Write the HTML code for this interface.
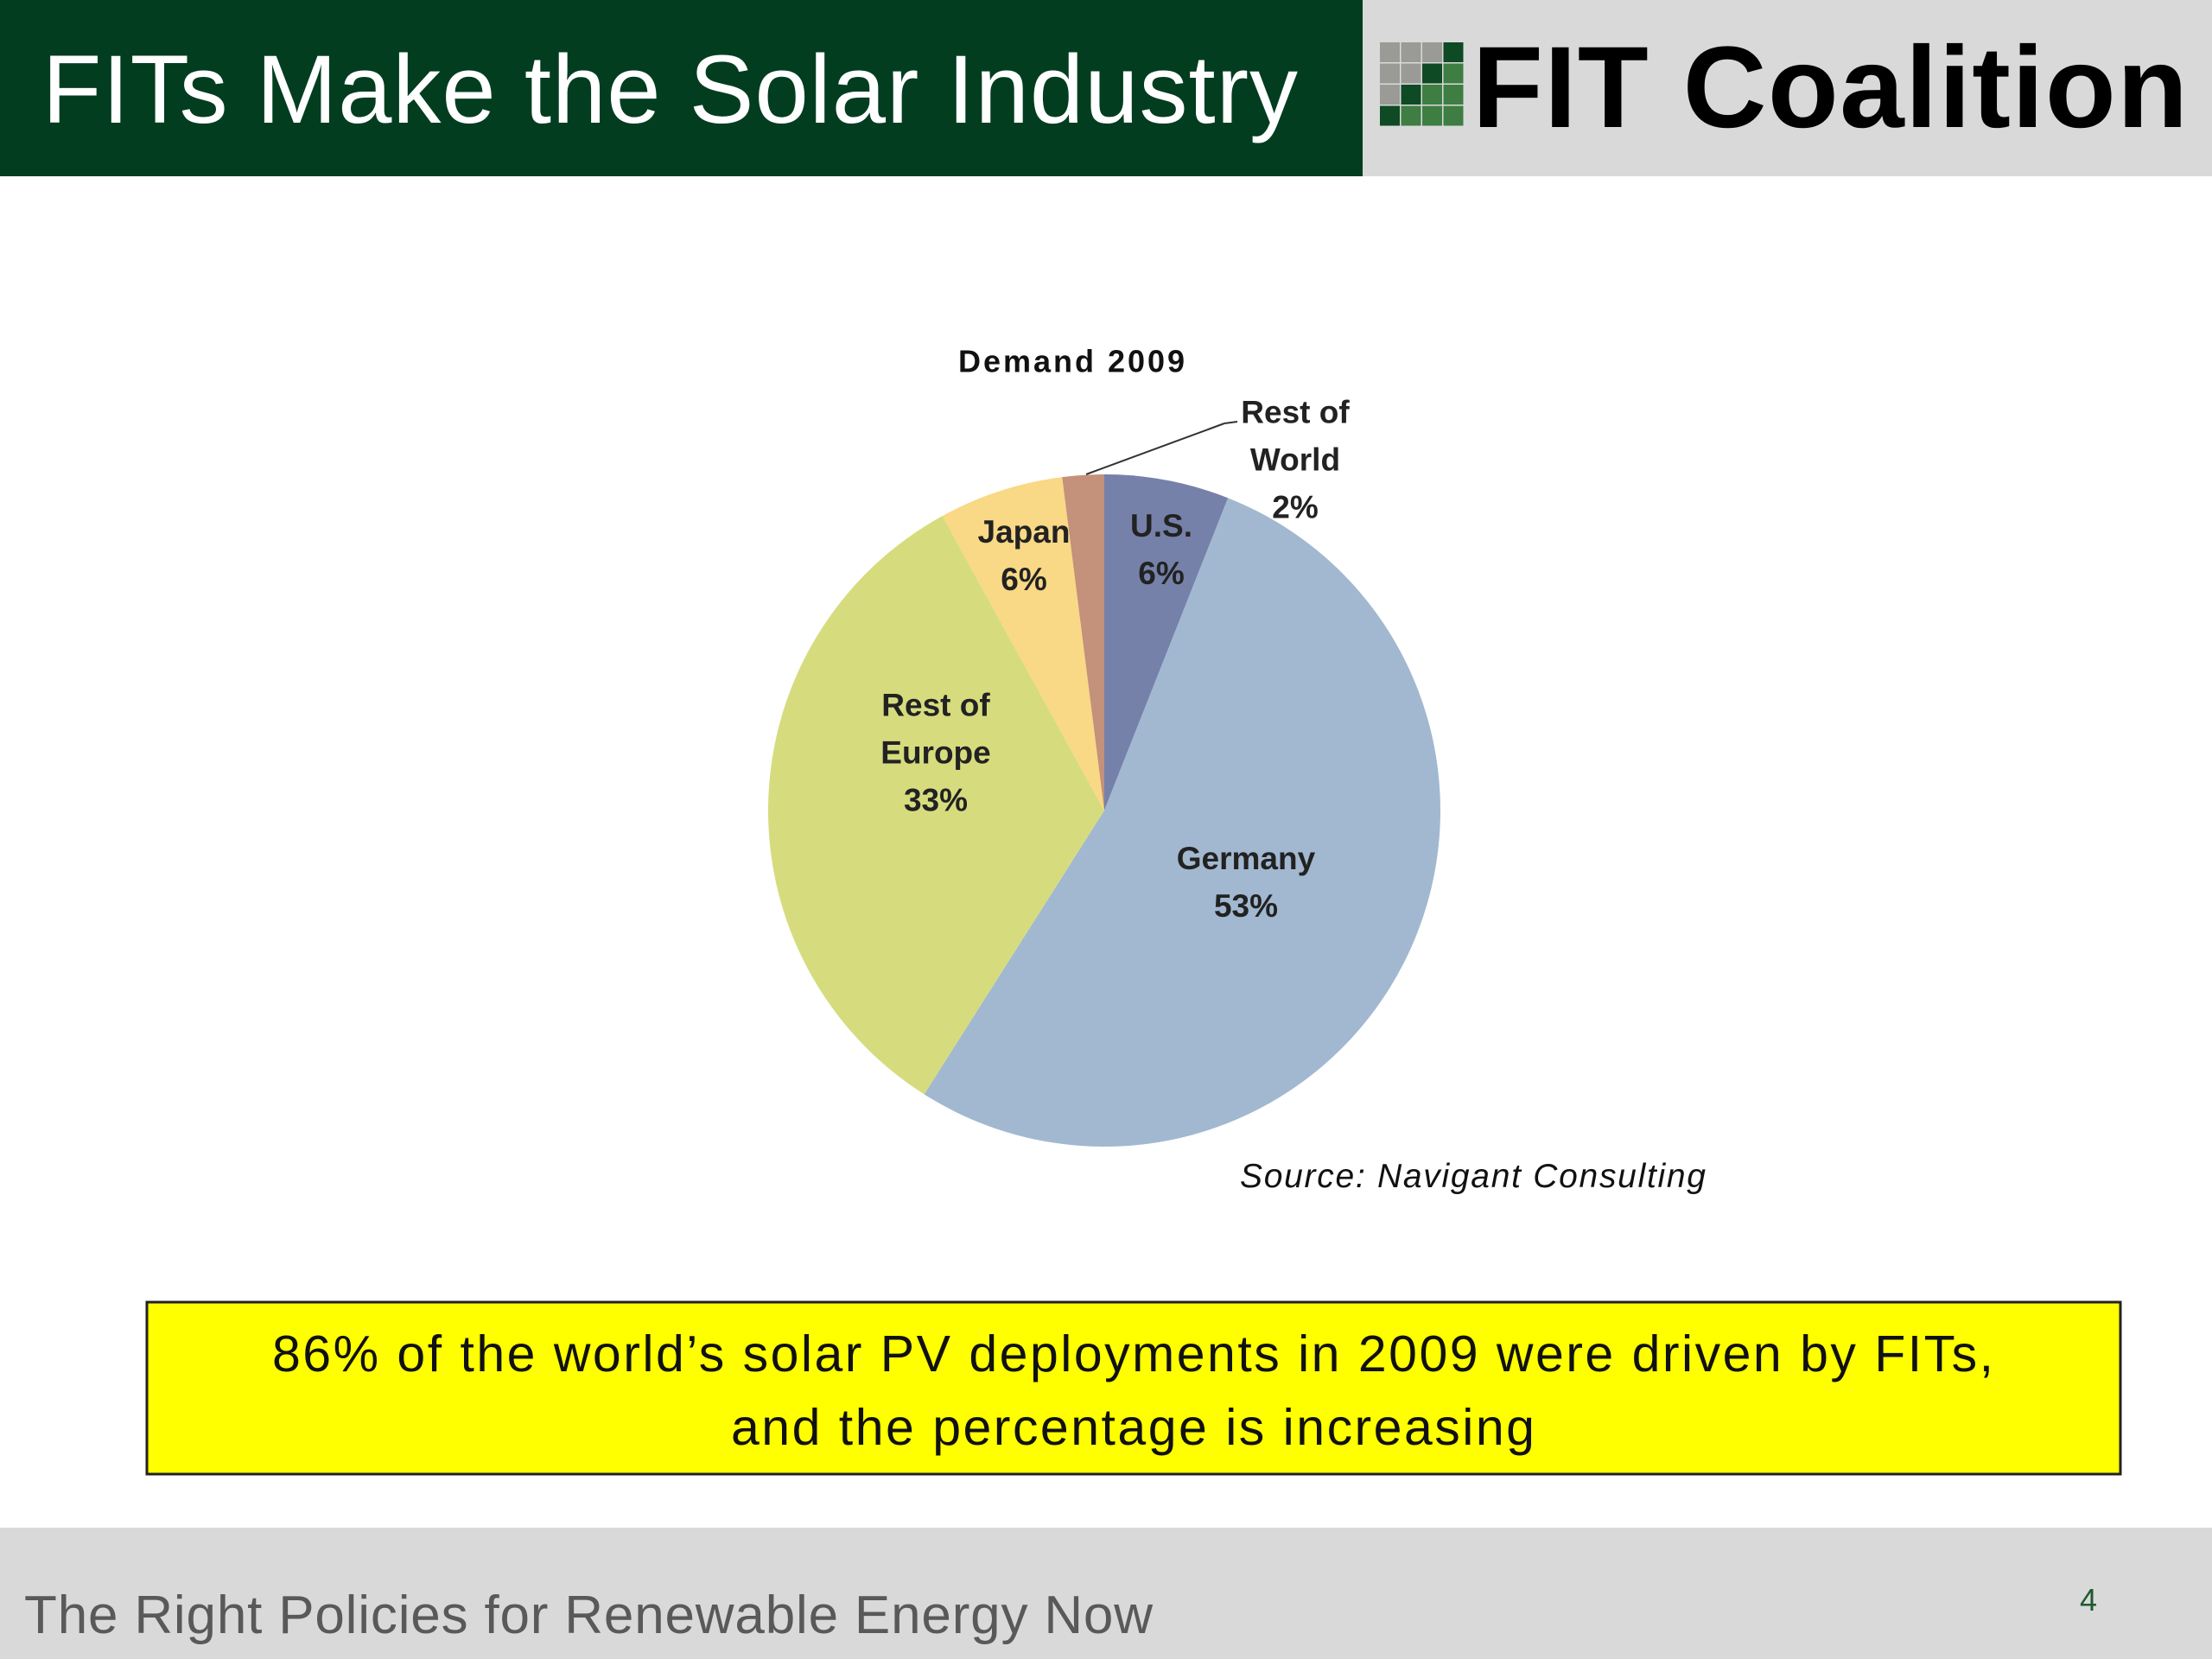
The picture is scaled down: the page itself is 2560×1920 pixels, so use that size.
<!DOCTYPE html>
<html><head><meta charset="utf-8"><style>
html,body{margin:0;padding:0;width:2560px;height:1920px;overflow:hidden;background:#fff;font-family:"Liberation Sans",sans-serif}
</style></head><body>
<svg width="2560" height="1920" viewBox="0 0 2560 1920" xmlns="http://www.w3.org/2000/svg">
<rect x="0" y="0" width="1577" height="204" fill="#023D20"/>
<rect x="1577" y="0" width="983" height="204" fill="#D9D9D9"/>
<text x="49" y="142" font-size="112" fill="#fff" font-family="Liberation Sans, sans-serif" textLength="1453">FITs Make the Solar Industry</text>
<g id="logo-grid"></g>
<text x="1704" y="147" font-size="134" font-weight="bold" fill="#000" font-family="Liberation Sans, sans-serif" textLength="828">FIT Coalition</text>

<text x="1109" y="418" font-size="36" font-weight="bold" fill="#111" dominant-baseline="central" textLength="262">Demand 2009</text>
<g id="pie"></g>
<line x1="1257" y1="549" x2="1417" y2="490" stroke="#333" stroke-width="2"/>
<line x1="1417" y1="490" x2="1432" y2="488" stroke="#333" stroke-width="2"/>
<g id="labels" font-size="37" font-weight="bold" fill="#222" text-anchor="middle" dominant-baseline="central"></g>

<text x="1435" y="1374" font-size="39" font-style="italic" fill="#111" textLength="539">Source: Navigant Consulting</text>

<rect x="170" y="1507" width="2284" height="199" fill="#FFFF00" stroke="#222" stroke-width="3"/>
<text x="315" y="1587" font-size="59" fill="#111" textLength="1992">86% of the world’s solar PV deployments in 2009 were driven by FITs,</text>
<text x="846" y="1672" font-size="59" fill="#111" textLength="930">and the percentage is increasing</text>

<rect x="0" y="1768" width="2560" height="152" fill="#D9D9D9"/>
<text x="28" y="1890" font-size="62" fill="#595959" textLength="1306">The Right Policies for Renewable Energy Now</text>
<text x="2417" y="1864" font-size="36" fill="#1F5A2E" text-anchor="middle">4</text>
</svg>
<script>
const categories = ["U.S.", "Germany", "Rest of Europe", "Japan", "Rest of World"];
const values = [6, 53, 33, 6, 2];
const colors = ["#7681A9", "#A1B8D0", "#D6DC7E", "#F9D886", "#C4917A"];
const labelLines = [["U.S.","6%"],["Germany","53%"],["Rest of","Europe","33%"],["Japan","6%"],["Rest of","World","2%"]];
const NS = "http://www.w3.org/2000/svg";
const cx = 1278, cy = 938, r = 389;
const total = values.reduce((a,b)=>a+b,0);
function pt(frac, rad){ const a = frac*2*Math.PI; return [cx + rad*Math.sin(a), cy - rad*Math.cos(a)]; }
const pie = document.getElementById('pie');
const labels = document.getElementById('labels');
const labelRad = [0.72, 0.42, 0.52, 0.72, 1.42];
let cum = 0;
values.forEach((v,i)=>{
  const s = cum/total, e = (cum+v)/total; cum += v;
  const [x1,y1] = pt(s,r), [x2,y2] = pt(e,r);
  const p = document.createElementNS(NS,'path');
  p.setAttribute('d',`M${cx},${cy} L${x1},${y1} A${r},${r} 0 ${(e-s)>0.5?1:0} 1 ${x2},${y2} Z`);
  p.setAttribute('fill',colors[i]);
  
  
  pie.appendChild(p);
  const mid = (s+e)/2;
  let [lx,ly] = pt(mid, r*labelRad[i]);
  if (i===4){ lx = 1499; ly = 532; }
  if (i===0){ lx = 1344; ly = 636; }
  if (i===3){ lx = 1185; ly = 643; }
  if (i===1){ lx = 1442; ly = 1021; }
  if (i===2){ lx = 1083; ly = 871; }
  const lines = labelLines[i];
  const step = 55;
  const g = document.createElementNS(NS,'g');
  
  
  lines.forEach((t,k)=>{
    const tx = document.createElementNS(NS,'text');
    tx.setAttribute('x', lx);
    tx.setAttribute('y', ly + (k-(lines.length-1)/2)*step);
    tx.textContent = t;
    g.appendChild(tx);
  });
  labels.appendChild(g);
});
const grid = document.getElementById('logo-grid');
const pattern = ["GGGD","GGDL","GDLL","DLLL"];
const cmap = {G:"#9A9A96", D:"#0E4A24", L:"#3E7E42"};
const gx = 1597, gy = 49, cs = 24.5;
pattern.forEach((row,ri)=>{ [...row].forEach((c,ci)=>{
  const rc = document.createElementNS(NS,'rect');
  rc.setAttribute('x', gx+ci*cs); rc.setAttribute('y', gy+ri*cs);
  rc.setAttribute('width', cs-1.5); rc.setAttribute('height', cs-1.5);
  rc.setAttribute('fill', cmap[c]);
  
  
  grid.appendChild(rc);
});});
</script>
</body></html>
